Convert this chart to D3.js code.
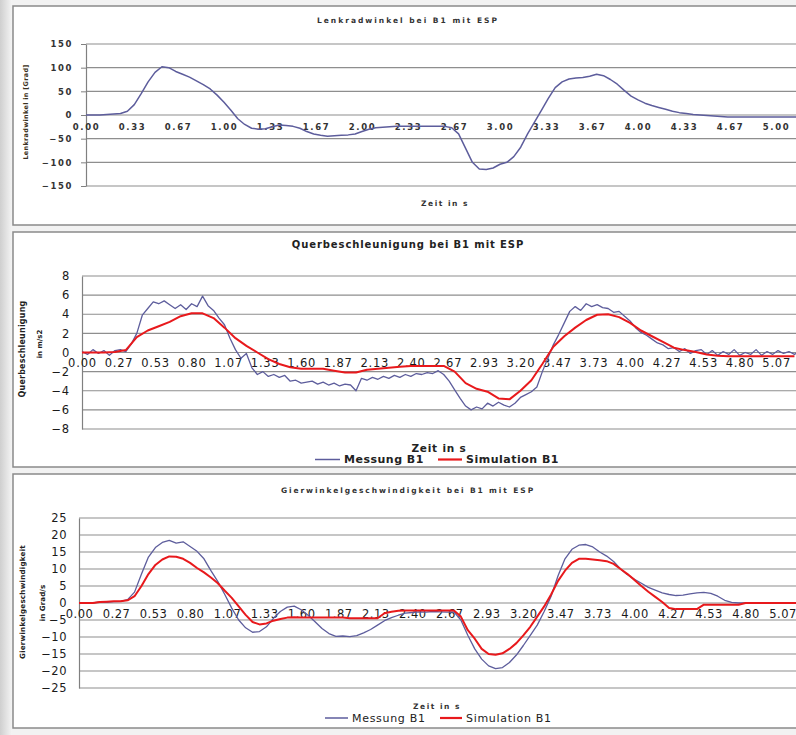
<!doctype html>
<html>
<head>
<meta charset="utf-8">
<title>Fahrversuch B1 mit ESP</title>
<script src="https://d3js.org/d3.v7.min.js"></script>
<style>
  body { margin: 0; background: #fff; }
</style>
</head>
<body>
<svg id="chart" width="796" height="735"></svg>
<script>
// ---- data ----
// Lenkradwinkel, one value every 0.05 s starting at 0 s
var lenkDt = 0.05;
var lenkMessung = [0,0,0,1,2,3,8,22,45,70,
  90,102,100,92,86,80,72,64,55,42,
  27,10,-8,-20,-28,-30,-29,-25,-21,-22,
  -24,-28,-35,-40,-43,-45,-44,-43,-42,-40,
  -35,-30,-27,-26,-25,-24,-24,-24,-24,-24,
  -24,-24,-24,-27,-40,-70,-100,-114,-115,-112,
  -104,-100,-88,-68,-40,-15,10,35,58,70,
  76,78,79,82,86,83,75,65,52,40,
  32,25,20,16,12,8,5,3,1,0,
  -1,-2,-3,-4,-4,-4,-4,-4,-4,-4,
  -4,-4,-4,-4,-4,-4];

// Querbeschleunigung, Messung every 0.04 s, Simulation every 0.08 s
var querDtMessung = 0.04;
var querMessung = [0.1,-0.2,0.3,-0.1,0.2,-0.3,0.2,
  0.3,0.1,0.9,2.0,3.9,4.6,5.3,5.1,5.4,5.0,4.6,5.0,4.5,5.1,4.8,5.9,4.9,4.4,3.6,2.9,1.5,0.3,-0.6,-0.1,-1.6,-2.3,-2.0,-2.5,-2.3,-2.6,-2.4,-3.0,-2.9,-3.2,
  -3.1,
  -3.0,-3.3,-3.1,-3.4,-3.2,-3.5,-3.3,-3.4,-4.0,-2.7,-2.9,-2.6,-2.8,-2.5,-2.7,-2.4,-2.6,-2.3,-2.5,-2.2,-2.3,-2.1,-2.2,-1.9,-2.3,-3.0,-3.9,-4.8,-5.6,-6.0,-5.7,-5.9,-5.3,-5.6,-5.2,
  -5.5,
  -5.7,-5.3,-4.7,-4.4,-4.1,-3.6,-2.0,-0.6,0.8,1.9,3.1,4.3,4.8,4.4,5.1,4.8,5.0,4.7,4.6,4.2,4.3,3.8,3.3,2.6,2.1,1.8,1.4,1.0,0.8,0.4,0.5,0.1,0.4,-0.1,
  0.2,
  0.3,-0.2,0.2,-0.3,0.1,-0.2,0.3,-0.3,0.0,-0.2,0.3,-0.3,0.1,-0.2,0.2,-0.1,0.1,-0.2,0.1,-0.1];
var querDtSimulation = 0.08;
var querSimulation = [0,0,0,0.05,0.25,1.6,2.3,2.75,3.2,3.8,
  4.1,4.1,3.6,2.6,1.5,0.7,0.0,-0.7,-1.2,-1.55,
  -1.7,-1.7,-1.7,-1.9,-2.1,-2.1,-1.8,-1.7,-1.6,-1.5,
  -1.4,-1.4,-1.4,-1.4,-2.0,-3.2,-3.8,-4.1,-4.8,-4.9,
  -4.0,-2.9,-1.2,0.6,1.7,2.6,3.4,3.95,4.0,3.7,
  3.1,2.3,1.7,1.1,0.5,0.25,0.05,-0.2,-0.35,-0.4,
  -0.4,-0.4,-0.4,-0.4,-0.4,-0.4];

// Gierwinkelgeschwindigkeit, every 0.05 s
var gierDt = 0.05;
var gierMessung = [0,0.1,0,0.3,0.2,0.4,0.5,1.0,3.2,8.5,
  13.5,16.3,17.8,18.4,17.6,18.0,16.6,15.2,13.0,9.5,
  6.3,2.5,-1.5,-5.0,-7.3,-8.6,-8.4,-7.0,-4.5,-2.5,
  -1.2,-0.9,-2.0,-3.6,-5.5,-7.5,-9.0,-9.8,-9.7,-9.9,
  -9.6,-8.8,-7.8,-6.5,-5.2,-4.3,-3.6,-3.0,-2.8,-2.6,
  -2.7,-2.5,-2.6,-2.7,-2.6,-5.0,-9.5,-13.5,-16.5,-18.5,
  -19.3,-19.0,-17.5,-15.3,-12.5,-9.5,-6.5,-2.5,2.0,8.0,
  13.0,15.8,17.0,17.2,16.5,15.0,13.8,12.2,10.0,8.3,
  7.0,5.8,4.6,3.8,3.0,2.5,2.2,2.3,2.7,3.0,
  3.1,2.8,2.0,0.8,0.2,0,0,0,0,0,
  0,0,0,0,0,0];
var gierSimulation = [0,0,0,0.3,0.4,0.5,0.5,0.8,2.0,5.0,
  8.5,11.2,12.8,13.7,13.6,13.0,11.8,10.3,9.0,7.5,
  5.8,3.6,1.5,-1.0,-3.5,-5.6,-6.3,-6.0,-5.2,-4.7,
  -4.3,-4.2,-4.3,-4.3,-4.3,-4.3,-4.3,-4.3,-4.3,-4.5,
  -4.5,-4.5,-4.5,-4.5,-3.0,-2.6,-2.3,-2.2,-2.2,-2.2,
  -2.2,-2.2,-2.2,-2.2,-2.2,-4.0,-8.0,-10.5,-13.5,-15.0,
  -15.2,-14.8,-13.5,-11.8,-9.5,-7.0,-4.0,-1.0,2.5,6.5,
  9.5,11.8,13.0,13.0,12.8,12.6,12.3,11.5,10.0,8.5,
  6.8,5.0,3.3,1.8,0.3,-1.5,-1.8,-1.8,-1.8,-1.8,
  -0.5,-0.5,-0.5,-0.5,-0.5,-0.5,0,0,0,0,
  0,0,0,0,0,0];

// tick labels
var lenkTicksY = [-150,-100,-50,0,50,100,150];
var querTicksY = [-8,-6,-4,-2,0,2,4,6,8];
var gierTicksY = [-25,-20,-15,-10,-5,0,5,10,15,20,25];
var lenkTicksX = d3.range(0, 16).map(function(i) { return i / 3; });       // 0.00 .. 5.00
var querTicksX = d3.range(0, 20).map(function(i) { return i * 4 / 15; });  // 0.00 .. 5.07

var blue = '#5d5d9c', red = '#e8191c';
var svg = d3.select('#chart');

// page background: grey strip on the left
var grad = svg.append('defs').append('linearGradient').attr('id', 'lg');
grad.append('stop').attr('offset', '0%').attr('stop-color', '#cfcfcf');
grad.append('stop').attr('offset', '100%').attr('stop-color', '#f4f4f4');
svg.append('rect').attr('width', 796).attr('height', 735).attr('fill', '#f2f2f2');
svg.append('rect').attr('width', 12).attr('height', 735).attr('fill', 'url(#lg)');

function font(sel, f) {
  sel.attr('font-family', f.family || 'DejaVu Sans')
    .attr('font-size', f.size)
    .attr('font-weight', f.weight || 'normal')
    .style('letter-spacing', (f.ls || 0) + 'px')
    .attr('fill', f.fill || '#222');
}

function drawPanel(p) {
  var g = svg.append('g');
  g.append('rect')
    .attr('x', p.box[0]).attr('y', p.box[1])
    .attr('width', p.box[2]).attr('height', p.box[3])
    .attr('fill', '#fff').attr('stroke', '#8a8a8a').attr('stroke-width', 1.5);

  var x = d3.scaleLinear().domain([0, p.tEnd]).range([p.left, p.right]);
  var y = d3.scaleLinear().domain(d3.extent(p.yTicks)).range([p.bottom, p.top]);

  g.selectAll('line.grid')
    .data(p.yTicks)
    .enter()
    .append('line')
      .attr('class', 'grid')
      .attr('x1', p.left).attr('x2', p.right)
      .attr('y1', d => y(d)).attr('y2', d => y(d))
      .attr('stroke', '#8e8e8e').attr('stroke-width', 1.2);

  var yAxis = d3.axisLeft(y).tickValues(p.yTicks)
    .tickSize(p.yTickSize).tickSizeOuter(0).tickPadding(p.yPad);
  var ya = g.append('g').attr('transform', 'translate(' + p.left + ',0)').call(yAxis);
  ya.select('.domain').attr('stroke', '#808080').attr('stroke-width', 1.2);
  ya.selectAll('.tick line').attr('stroke', '#808080');
  font(ya.selectAll('text'), p.tickFont);

  var xAxis = d3.axisBottom(x).tickValues(p.xTicks)
    .tickSize(0).tickPadding(p.xPad).tickFormat(d3.format('.2f'));
  var xa = g.append('g').attr('transform', 'translate(0,' + y(0) + ')').call(xAxis);
  xa.select('.domain').remove();
  font(xa.selectAll('text'), p.tickFont);

  p.series.forEach(function(s) {
    g.append('path')
      .datum(s.values)
      .attr('fill', 'none')
      .attr('stroke', s.color)
      .attr('stroke-width', s.width)
      .attr('stroke-linejoin', 'round')
      .attr('d', d3.line().x((d, i) => x(i * s.dt)).y(d => y(d)));
  });

  var t = g.append('text').attr('x', p.titlePos[0]).attr('y', p.titlePos[1])
    .attr('text-anchor', 'middle').attr('dominant-baseline', 'central').text(p.title);
  font(t, p.titleFont);

  var z = g.append('text').attr('x', p.zeitPos[0]).attr('y', p.zeitPos[1])
    .attr('text-anchor', 'middle').attr('dominant-baseline', 'central').text('Zeit in s');
  font(z, p.zeitFont);

  p.yTitle.forEach(function(l) {
    var yt = g.append('text')
      .attr('transform', 'translate(' + l.x + ',' + l.y + ') rotate(-90)')
      .attr('text-anchor', 'middle').attr('dominant-baseline', 'central').text(l.text);
    font(yt, l.font);
  });

  if (p.legend) {
    p.legend.forEach(function(l) {
      g.append('line').attr('x1', l.x).attr('x2', l.x + l.len)
        .attr('y1', p.legendY).attr('y2', p.legendY)
        .attr('stroke', l.color).attr('stroke-width', l.width);
      var lt = g.append('text').attr('x', l.x + l.len + 4).attr('y', p.legendY)
        .attr('dominant-baseline', 'central').text(l.text);
      font(lt, p.legendFont);
    });
  }
}

drawPanel({
  box: [13, 6, 800, 219],
  left: 86, right: 810.5, top: 44, bottom: 186, tEnd: 5.25,
  yTicks: lenkTicksY, xTicks: lenkTicksX,
  yTickSize: 5, yPad: 8, xPad: 9,
  tickFont: { size: 8.5, weight: 'bold', ls: 1.6, fill: '#333' },
  title: 'Lenkradwinkel bei B1 mit ESP', titlePos: [408, 20],
  titleFont: { size: 7.5, weight: 'bold', ls: 2, fill: '#333' },
  zeitPos: [445, 203.5], zeitFont: { size: 7.5, weight: 'bold', ls: 1.5, fill: '#333' },
  yTitle: [{ text: 'Lenkradwinkel in [Grad]', x: 25.5, y: 112, font: { size: 6.5, weight: 'bold', ls: 0.3, fill: '#3a3020' } }],
  series: [{ values: lenkMessung, dt: lenkDt, color: blue, width: 1.5 }]
});

drawPanel({
  box: [13, 232, 800, 235],
  left: 82, right: 801.3, top: 276, bottom: 429, tEnd: 5.25,
  yTicks: querTicksY, xTicks: querTicksX,
  yTickSize: 0, yPad: 12, xPad: 6,
  tickFont: { size: 11.5, weight: 'normal', ls: 0.8, fill: '#1a1a1a' },
  title: 'Querbeschleunigung bei B1 mit ESP', titlePos: [408, 244],
  titleFont: { size: 10, weight: 'bold', ls: 0.9, fill: '#222' },
  zeitPos: [439, 447.5], zeitFont: { size: 10.5, weight: 'bold', ls: 0.8, fill: '#222' },
  yTitle: [
    { text: 'Querbeschleunigung', x: 22, y: 349, font: { size: 8, weight: 'bold', ls: 0.2, fill: '#222' } },
    { text: 'in m/s2', x: 40, y: 344, font: { size: 7, weight: 'bold', fill: '#222' } }
  ],
  legendY: 459.5,
  legendFont: { size: 11, weight: 'bold', ls: 0.5, fill: '#222' },
  legend: [
    { x: 315, len: 25, color: blue, width: 1.5, text: 'Messung B1' },
    { x: 438, len: 24, color: red, width: 2.2, text: 'Simulation B1' }
  ],
  series: [
    { values: querMessung, dt: querDtMessung, color: blue, width: 1.3 },
    { values: querSimulation, dt: querDtSimulation, color: red, width: 2 }
  ]
});

drawPanel({
  box: [13, 474, 800, 254],
  left: 79, right: 808, top: 518, bottom: 688, tEnd: 5.25,
  yTicks: gierTicksY, xTicks: querTicksX,
  yTickSize: 0, yPad: 12, xPad: 6.5,
  tickFont: { size: 11.5, weight: 'normal', ls: 0.5, fill: '#1a1a1a' },
  title: 'Gierwinkelgeschwindigkeit bei B1 mit ESP', titlePos: [408, 490],
  titleFont: { size: 7.5, weight: 'bold', ls: 1.9, fill: '#333' },
  zeitPos: [437, 706], zeitFont: { size: 7.5, weight: 'bold', ls: 1.5, fill: '#333' },
  yTitle: [
    { text: 'Gierwinkelgeschwindigkeit', x: 22, y: 602, font: { size: 7.2, weight: 'bold', ls: 0.2, fill: '#222' } },
    { text: 'in Grad/s', x: 42, y: 603, font: { size: 7.2, weight: 'bold', fill: '#222' } }
  ],
  legendY: 718,
  legendFont: { size: 11, weight: 'normal', ls: 0.7, fill: '#222' },
  legend: [
    { x: 325, len: 23, color: blue, width: 1.5, text: 'Messung B1' },
    { x: 440, len: 22, color: red, width: 2.2, text: 'Simulation B1' }
  ],
  series: [
    { values: gierMessung, dt: gierDt, color: blue, width: 1.3 },
    { values: gierSimulation, dt: gierDt, color: red, width: 2 }
  ]
});
</script>
</body>
</html>
